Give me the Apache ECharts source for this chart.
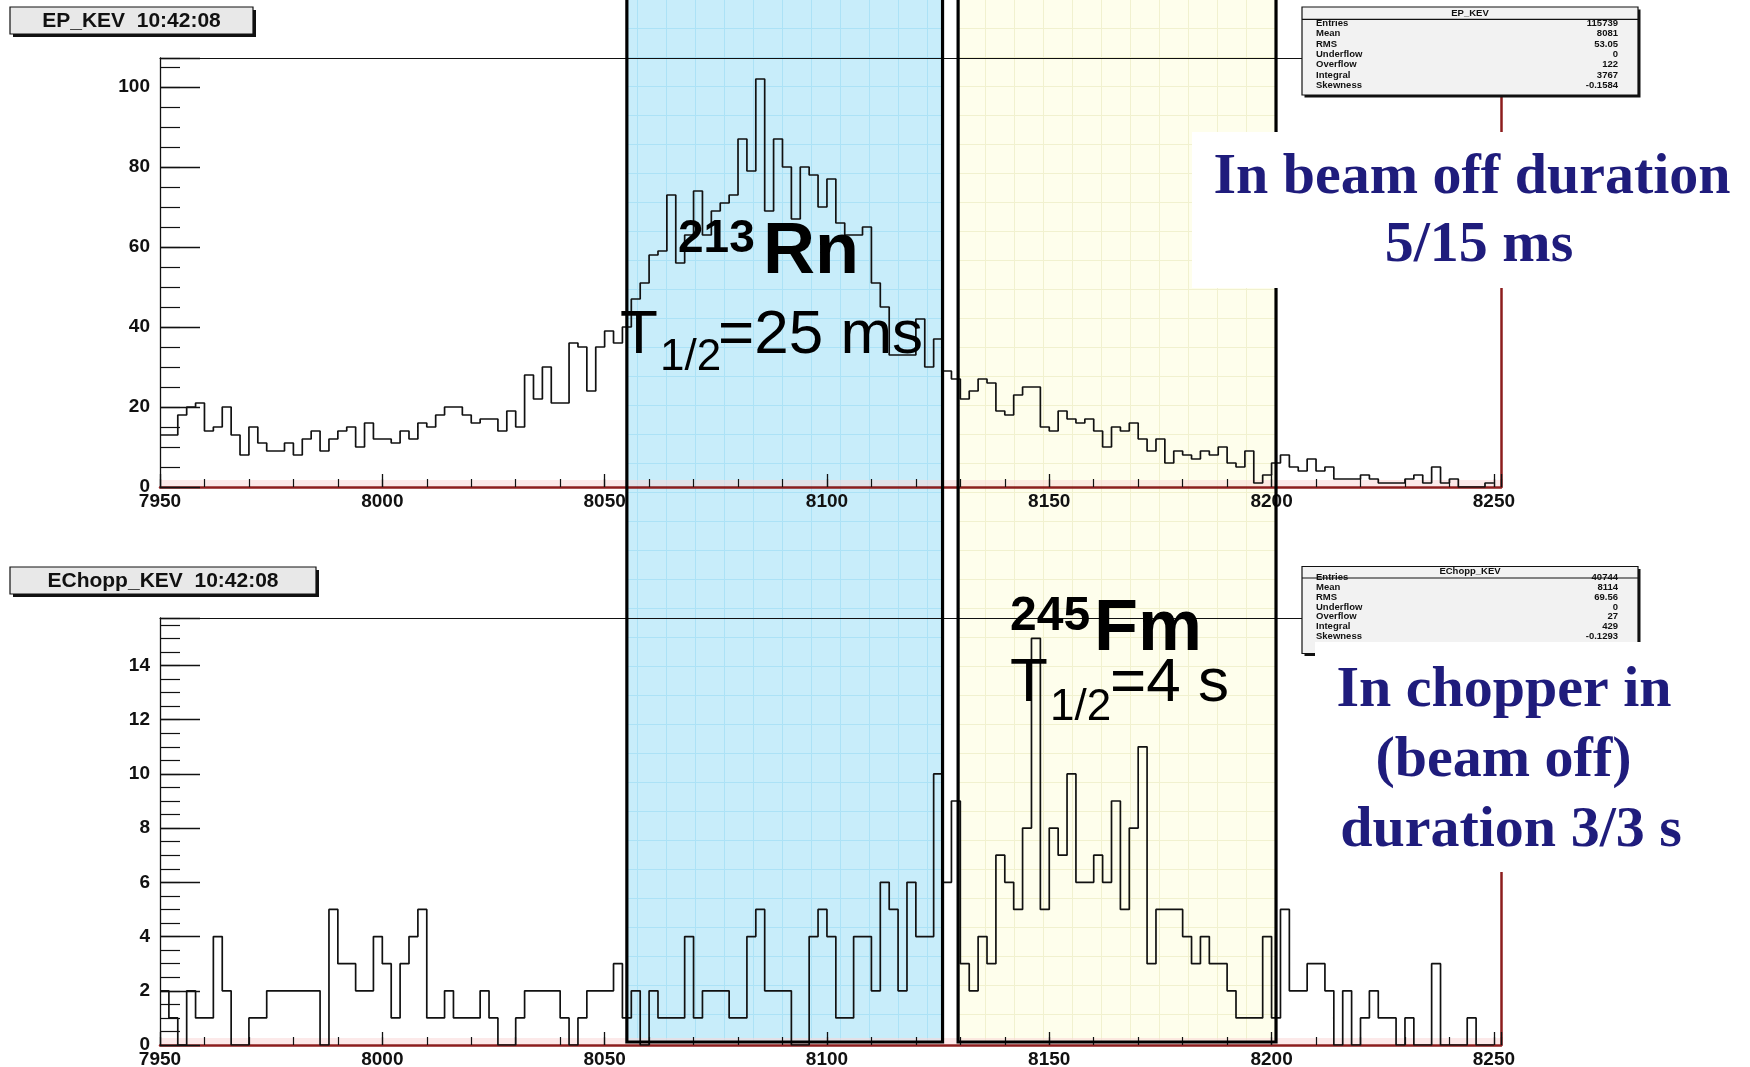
<!DOCTYPE html>
<html>
<head>
<meta charset="utf-8">
<script src="https://cdn.jsdelivr.net/npm/echarts@6/dist/echarts.min.js"></script>
<style>
  html, body { margin: 0; padding: 0; background: #ffffff; }
  #chart { width: 1750px; height: 1067px; }
</style>
</head>
<body>
<div id="chart"></div>
<script>
// ---- Binning of both energy spectra (keV) ----
const binStart = 7950;
const binWidth = 2;
const axisMin = 7950;
const axisMax = 8251.6;

// EP_KEV: counts per 2 keV bin, 7950 .. 8250 keV
const epKevCounts = [
  13, 13, 18, 20, 21, 14, 15, 20, 13, 8,
  15, 11, 9, 9, 11, 8, 12, 14, 9, 12,
  14, 15, 10, 16, 12, 12, 11, 14, 12, 16,
  15, 18, 20, 20, 18, 16, 17, 17, 14, 19,
  15, 28, 22, 30, 21, 21, 36, 35, 24, 35,
  39, 36, 40, 47, 51, 58, 59, 73, 56, 63,
  74, 63, 69, 71, 73, 87, 79, 102, 69, 87,
  80, 67, 80, 78, 70, 77, 66, 63, 63, 65,
  51, 45, 33, 33, 33, 42, 30, 37, 29, 27,
  22, 24, 27, 26, 19, 18, 23, 25, 25, 15,
  14, 19, 17, 16, 17, 14, 10, 15, 14, 16,
  12, 9, 12, 6, 9, 8, 7, 9, 8, 10,
  6, 5, 9, 1, 3, 6, 8, 5, 4, 7,
  4, 5, 2, 2, 2, 3, 2, 1, 1, 1,
  2, 3, 1, 5, 1, 2, 0, 0, 0, 1
];

// EChopp_KEV: counts per 2 keV bin, 7950 .. 8250 keV
const echoppKevCounts = [
  2, 1, 0, 2, 1, 1, 4, 2, 0, 0,
  1, 1, 2, 2, 2, 2, 2, 2, 0, 5,
  3, 3, 2, 2, 4, 3, 1, 3, 4, 5,
  1, 1, 2, 1, 1, 1, 2, 1, 0, 0,
  1, 2, 2, 2, 2, 1, 0, 1, 2, 2,
  2, 3, 1, 2, 0, 2, 1, 1, 1, 4,
  1, 2, 2, 2, 1, 1, 4, 5, 2, 2,
  2, 0, 0, 4, 5, 4, 1, 1, 4, 4,
  2, 6, 5, 2, 6, 4, 4, 10, 6, 9,
  3, 2, 4, 3, 7, 6, 5, 8, 15, 5,
  8, 7, 10, 6, 6, 7, 6, 9, 5, 8,
  11, 3, 5, 5, 5, 4, 3, 4, 3, 3,
  2, 1, 1, 1, 4, 1, 5, 2, 2, 3,
  3, 2, 0, 2, 0, 1, 2, 1, 1, 0,
  1, 0, 0, 3, 0, 0, 0, 1, 0, 0
];

// Vertical ranges and tick steps
const epYMax = 107.25;
const epYMajor = 20;
const epYMinor = 5;
const echoppYMax = 15.75;
const echoppYMajor = 2;
const echoppYMinor = 0.5;
const xMajor = 50;
const xMinor = 10;

// Energy windows of the two alpha lines (keV)
const rnWindow = [8055, 8126];
const fmWindow = [8129.5, 8201];

// Statistics boxes
const epStatsLabels = ['Entries', 'Mean', 'RMS', 'Underflow', 'Overflow', 'Integral', 'Skewness'];
const epStatsValues = ['115739', '8081', '53.05', '0', '122', '3767', '-0.1584'];
const echoppStatsLabels = ['Entries', 'Mean', 'RMS', 'Underflow', 'Overflow', 'Integral', 'Skewness'];
const echoppStatsValues = ['40744', '8114', '69.56', '0', '27', '429', '-0.1293'];

// Text
const epTitle = 'EP_KEV  10:42:08';
const echoppTitle = 'EChopp_KEV  10:42:08';
const epNote = ['In beam off duration', '5/15 ms'];
const echoppNote = ['In chopper in', '(beam off)', 'duration 3/3 s'];

const SANS = '"Liberation Sans", Arial, Helvetica, sans-serif';
const SERIF = '"Liberation Serif", "Times New Roman", serif';
const AXIS_RED = '#8c1d1d';
const INK = '#111111';
const NAVY = '#1f1c7c';

function histPoints(counts) {
  const pts = counts.map((c, i) => [binStart + i * binWidth, c]);
  pts.push([binStart + counts.length * binWidth, counts[counts.length - 1]]);
  return pts;
}

const labelStyle = { fontFamily: SANS, fontWeight: 'bold', fontSize: 19, color: INK };

function xAxesFor(g) {
  return [
    {
      gridIndex: g, type: 'value', min: axisMin, max: axisMax, interval: xMajor, position: 'bottom',
      axisLine: { show: true, onZero: false, lineStyle: { color: AXIS_RED, width: 2.5 } },
      axisTick: { show: true, inside: true, length: 13, lineStyle: { color: INK, width: 1.3 } },
      axisLabel: Object.assign({ show: true, margin: 5, formatter: v => (v % xMajor === 0 ? String(v) : '') }, labelStyle),
      splitLine: { show: false }
    },
    {
      gridIndex: g, type: 'value', min: axisMin, max: axisMax, interval: xMinor, position: 'bottom',
      axisLine: { show: false, onZero: false },
      axisTick: { show: true, inside: true, length: 8, lineStyle: { color: INK, width: 1.2 } },
      axisLabel: { show: false }, splitLine: { show: false }
    },
    {
      gridIndex: g, type: 'value', min: axisMin, max: axisMax, position: 'top',
      axisLine: { show: true, onZero: false, lineStyle: { color: INK, width: 1.2 } },
      axisTick: { show: false }, axisLabel: { show: false }, splitLine: { show: false }
    }
  ];
}

function yAxesFor(g, yMax, major, minor) {
  return [
    {
      gridIndex: g, type: 'value', min: 0, max: yMax, interval: major, position: 'left',
      axisLine: { show: true, onZero: false, lineStyle: { color: INK, width: 1.3 } },
      axisTick: { show: true, inside: true, length: 40, lineStyle: { color: INK, width: 1.3 } },
      axisLabel: Object.assign({ show: true, margin: 10, formatter: v => (v % major === 0 ? String(v) : '') }, labelStyle),
      splitLine: { show: false }
    },
    {
      gridIndex: g, type: 'value', min: 0, max: yMax, interval: minor, position: 'left',
      axisLine: { show: false, onZero: false },
      axisTick: { show: true, inside: true, length: 20, lineStyle: { color: INK, width: 1.2 } },
      axisLabel: { show: false }, splitLine: { show: false }
    },
    {
      gridIndex: g, type: 'value', min: 0, max: yMax, position: 'right',
      axisLine: { show: true, onZero: false, lineStyle: { color: AXIS_RED, width: 2.5 } },
      axisTick: { show: false }, axisLabel: { show: false }, splitLine: { show: false }
    }
  ];
}

const chart = echarts.init(document.getElementById('chart'), null, { renderer: 'canvas' });

chart.setOption({
  animation: false,
  backgroundColor: '#ffffff',
  grid: [
    { left: 160, top: 58, width: 1341, height: 429, outerBoundsMode: 'none', containLabel: false },
    { left: 160, top: 618, width: 1341, height: 427, outerBoundsMode: 'none', containLabel: false }
  ],
  xAxis: [...xAxesFor(0), ...xAxesFor(1)],
  yAxis: [...yAxesFor(0, epYMax, epYMajor, epYMinor), ...yAxesFor(1, echoppYMax, echoppYMajor, echoppYMinor)],
  series: [
    {
      name: 'EP_KEV', type: 'line', xAxisIndex: 0, yAxisIndex: 0, step: 'end',
      data: histPoints(epKevCounts), showSymbol: false, symbol: 'none', z: 3,
      lineStyle: { color: INK, width: 1.7 }, silent: true
    },
    {
      name: 'EChopp_KEV', type: 'line', xAxisIndex: 3, yAxisIndex: 3, step: 'end',
      data: histPoints(echoppKevCounts), showSymbol: false, symbol: 'none', z: 3,
      lineStyle: { color: INK, width: 1.7 }, silent: true
    }
  ]
});

// ---- Overlays: decay windows, title/stat panes, labels ----
function gridPattern(base, line, cell) {
  const c = document.createElement('canvas');
  c.width = cell; c.height = cell;
  const g = c.getContext('2d');
  g.fillStyle = base; g.fillRect(0, 0, cell, cell);
  g.fillStyle = line;
  g.fillRect(cell - 1, 0, 1, cell);
  g.fillRect(0, cell - 1, cell, 1);
  return c;
}

function txt(x, baseline, str, size, weight, family, color, align, z) {
  return {
    type: 'text', z: z, silent: true,
    style: {
      x: x, y: baseline - 0.34 * size, text: str,
      font: weight + ' ' + size + 'px ' + family, fill: color,
      align: align, verticalAlign: 'middle', textAlign: align, textVerticalAlign: 'middle'
    }
  };
}

function rect(x, y, w, h, style, z) {
  return { type: 'rect', z: z, silent: true, shape: { x: x, y: y, width: w, height: h }, style: style };
}

function line(x1, y1, x2, y2, color, width, z) {
  return { type: 'line', z: z, silent: true, shape: { x1: x1, y1: y1, x2: x2, y2: y2 }, style: { stroke: color, lineWidth: width } };
}

function titlePane(x, y, w, h, label) {
  return [
    rect(x + 3, y + 3, w, h, { fill: '#111' }, 50),
    rect(x, y, w, h, { fill: '#e8e8e8', stroke: '#111', lineWidth: 1.2 }, 51),
    {
      type: 'text', z: 52, silent: true,
      style: {
        x: x + w / 2, y: y + h / 2 + 1, text: label, font: 'bold 21px ' + SANS, fill: INK,
        align: 'center', verticalAlign: 'middle', textAlign: 'center', textVerticalAlign: 'middle'
      }
    }
  ];
}

function statsPane(x, y, w, h, title, labels, values, headerY, sepY, rowY0, rowStep) {
  const els = [
    rect(x + 2.5, y + 2.5, w, h, { fill: '#111' }, 50),
    rect(x, y, w, h, { fill: '#f2f2f2', stroke: '#111', lineWidth: 1.2 }, 51),
    line(x, sepY, x + w, sepY, '#111', 1.2, 52)
  ];
  const mk = (tx, ty, s, align) => ({
    type: 'text', z: 53, silent: true,
    style: {
      x: tx, y: ty, text: s, font: 'bold 9.5px ' + SANS, fill: INK,
      align: align, verticalAlign: 'middle', textAlign: align, textVerticalAlign: 'middle'
    }
  });
  els.push(mk(x + w / 2, headerY, title, 'center'));
  labels.forEach((lab, i) => {
    els.push(mk(x + 14, rowY0 + i * rowStep, lab, 'left'));
    els.push(mk(x + w - 20, rowY0 + i * rowStep, values[i], 'right'));
  });
  return els;
}

const px = v => chart.convertToPixel({ xAxisIndex: 0 }, v);
const yBase = chart.convertToPixel({ yAxisIndex: 3 }, 0);
const yBaseTop = chart.convertToPixel({ yAxisIndex: 0 }, 0);

const bluePattern = gridPattern('#c8edfa', '#ace2f6', 29);
const yellowPattern = gridPattern('#fefeec', '#f1f1cf', 29);

const overlay = [];

// faint pink glow just above each energy axis
[yBaseTop, yBase].forEach(yb => {
  overlay.push(rect(px(axisMin), yb - 7, px(axisMax) - px(axisMin), 6, { fill: 'rgba(250, 215, 215, 0.55)' }, -4));
});

[[rnWindow, bluePattern], [fmWindow, yellowPattern]].forEach(([win, pat]) => {
  const x0 = px(win[0]);
  const x1 = px(win[1]);
  overlay.push(rect(x0, -10, x1 - x0, yBase - 3 + 10, { fill: { image: pat, repeat: 'repeat' } }, -5));
  overlay.push(rect(x0, -10, x1 - x0, yBase - 3 + 10, { fill: 'none', stroke: '#000', lineWidth: 3.2 }, 40));
});

// Nuclide labels
overlay.push(txt(678, 255, '213', 46, 'bold', SANS, '#000', 'left', 45));
overlay.push(txt(763, 278, 'Rn', 72, 'bold', SANS, '#000', 'left', 45));
overlay.push(txt(620, 357, 'T', 62, 'normal', SANS, '#000', 'left', 45));
overlay.push(txt(660, 373, '1/2', 44, 'normal', SANS, '#000', 'left', 45));
overlay.push(txt(718, 357, '=25 ms', 62, 'normal', SANS, '#000', 'left', 45));

overlay.push(txt(1010, 633, '245', 48, 'bold', SANS, '#000', 'left', 45));
overlay.push(txt(1094, 655, 'Fm', 72, 'bold', SANS, '#000', 'left', 45));
overlay.push(txt(1010, 705, 'T', 62, 'normal', SANS, '#000', 'left', 45));
overlay.push(txt(1050, 723, '1/2', 44, 'normal', SANS, '#000', 'left', 45));
overlay.push(txt(1110, 705, '=4 s', 62, 'normal', SANS, '#000', 'left', 45));

// Title panes
overlay.push(...titlePane(10, 7, 243, 27, epTitle));
overlay.push(...titlePane(10, 567, 306, 27, echoppTitle));

// Statistics panes
overlay.push(...statsPane(1302, 7, 336, 88, 'EP_KEV', epStatsLabels, epStatsValues, 13, 19.3, 23.5, 10.3));
overlay.push(...statsPane(1302, 566.5, 336, 87, 'EChopp_KEV', echoppStatsLabels, echoppStatsValues, 571.5, 578, 577.5, 9.8));

// Run-condition notes
overlay.push(rect(1192, 132, 560, 156, { fill: '#ffffff' }, 60));
overlay.push(txt(1472, 197.5, epNote[0], 58, 'bold', SERIF, NAVY, 'center', 61));
overlay.push(txt(1479, 265.5, epNote[1], 58, 'bold', SERIF, NAVY, 'center', 61));

overlay.push(rect(1315, 642, 437, 230, { fill: '#ffffff' }, 60));
overlay.push(txt(1504, 711, echoppNote[0], 58, 'bold', SERIF, NAVY, 'center', 61));
overlay.push(txt(1503.5, 781, echoppNote[1], 58, 'bold', SERIF, NAVY, 'center', 61));
overlay.push(txt(1511, 851, echoppNote[2], 58, 'bold', SERIF, NAVY, 'center', 61));

chart.setOption({ graphic: { elements: overlay } });
</script>
</body>
</html>
